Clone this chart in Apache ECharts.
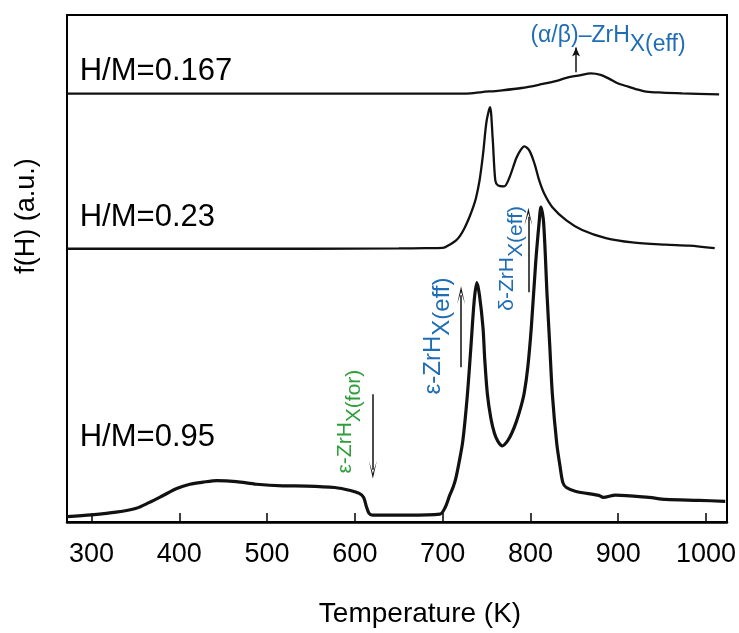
<!DOCTYPE html>
<html>
<head>
<meta charset="utf-8">
<title>f(H) vs Temperature</title>
<script src="https://cdn.jsdelivr.net/npm/echarts@6/dist/echarts.min.js"></script>
<style>html,body{margin:0;padding:0;background:#fff}#main{width:739px;height:633px}</style>
</head>
<body>
<div id="main"></div>
<script>
// temperature (K) and f(H) (a.u.), one pair of arrays per curve
var t095 = [272,300,328,351,366,381,397,412,427,443,465,488,518,545,577,595,605,610,613,616,620,660,697,703,708,712,715,719,723,728,732,736,739,742,746,748,751,755,759,763,768,774,779,784,789,793,797,801,806,810,812,815,819,822,825,830,834,837,841,852,878,883,897,935,954,992,1022];
var f095 = [1.07,1.42,1.94,2.72,3.88,5.18,6.60,7.44,7.86,8.16,7.96,7.44,7.13,7.09,6.80,6.21,5.63,4.85,3.11,1.75,1.36,1.36,1.55,2.91,5.24,6.90,8.6,12.0,16.0,24.7,34.0,43.7,47.2,44.7,38.3,32.0,25.2,20.4,17.5,15.9,15.0,16.0,17.6,19.8,22.6,25.5,30.5,38.3,51.1,59.2,62.1,59.2,44.7,35.0,25.2,15.5,10.7,7.77,6.80,6.02,5.24,4.85,5.30,4.85,4.47,4.27,4.08];
var t023 = [272,400,550,650,680,700,708,715,720,725,730,735,738,742,746,750,754,757,760,763,770,776,784,789,793,799,805,810,816,825,841,859,886,916,954,981,1010];
var f023 = [0,0,0,0.05,0.1,0.15,0.8,1.6,2.6,4.1,6.0,8.3,10.0,13.4,18.6,25.1,27.9,21.8,13.5,12.5,12.3,14.0,17.9,19.5,20.2,19.3,16.6,13.5,10.8,8.2,5.6,3.7,2.1,1.25,0.8,0.6,0.1];
var t0167 = [272,500,700,727,745,765,790,814,830,841,856,869,880,890,900,909,920,932,950,973,1015];
var f0167 = [0,0,0,0,0.3,0.6,1.1,1.9,2.5,3.1,3.6,4.0,3.7,2.9,2.0,1.5,0.9,0.4,0.2,0.05,-0.15];
// vertical offsets of the stacked curves (a.u.)
var off095 = 0, off023 = 53.9, off0167 = 84.5;
var xTicks = [300,400,500,600,700,800,900,1000];

// arrows: [temperature, from, to]
var arrowsOpen = [[620.5,25.2,10.3],[721,30.5,44.7],[797.7,45.3,60.2]];
var arrowAB = [852,88.7,93.6];

var FONT = 'Liberation Sans, Arial, sans-serif';
var BLUE = '#1f6db5', GREEN = '#2f9e3a';

function pairs(t, f, off) {
    var out = [];
    for (var i = 0; i < t.length; i++) out.push([t[i], +(f[i] + off).toFixed(2)]);
    return out;
}
function arrowLines(list) {
    return list.map(function (a) { return [{coord: [a[0], a[1]]}, {coord: [a[0], a[2]]}]; });
}

var chart = echarts.init(document.getElementById('main'));

var lineBase = {type: 'line', showSymbol: false, smooth: 0.3, silent: true};

var option = {
    animation: false,
    grid: {left: 67, top: 15, right: 12, bottom: 103, show: true, borderColor: '#000', borderWidth: 2},
    xAxis: {
        type: 'value', min: 272, max: 1024,
        splitLine: {show: false},
        axisLine: {lineStyle: {color: '#000', width: 2.5}},
        axisTick: {inside: true, length: 9, lineStyle: {color: '#000', width: 1.5}, customValues: xTicks},
        axisLabel: {color: '#000', fontSize: 27, fontFamily: FONT, margin: 19, customValues: xTicks,
            formatter: function (v) { return String(v); }},
        name: 'Temperature (K)', nameLocation: 'middle', nameGap: 78,
        nameTextStyle: {color: '#000', fontSize: 28, fontFamily: FONT, padding: [0, 0, 0, 46]}
    },
    yAxis: {type: 'value', min: 0, max: 100, show: false},
    series: [
        Object.assign({}, lineBase, {
            name: 'H/M=0.95', data: pairs(t095, f095, off095),
            lineStyle: {color: '#111', width: 3.2},
            markLine: {
                silent: true, symbol: ['none', 'path://M5,0 L10,20 L5,6 L0,20 Z'], symbolSize: [8, 18],
                label: {show: false}, lineStyle: {color: '#111', width: 1.5, type: 'solid'},
                data: arrowLines(arrowsOpen)
            }
        }),
        Object.assign({}, lineBase, {
            name: 'H/M=0.23', data: pairs(t023, f023, off023),
            lineStyle: {color: '#111', width: 2.3}
        }),
        Object.assign({}, lineBase, {
            name: 'H/M=0.167', data: pairs(t0167, f0167, off0167),
            lineStyle: {color: '#111', width: 2.3},
            markLine: {
                silent: true, symbol: ['none', 'arrow'], symbolSize: [6, 9],
                label: {show: false}, lineStyle: {color: '#111', width: 1.5, type: 'solid'},
                data: arrowLines([arrowAB])
            }
        })
    ]
};
chart.setOption(option);

// text annotations placed through the chart's own scales
function px(x, y) { return chart.convertToPixel({gridIndex: 0}, [x, y]); }
function subText(main, sub, color, size) {
    return {
        text: '{m|' + main + '}{s|' + sub + '}', fill: color,
        rich: {
            m: {fontSize: size, fontFamily: FONT, fill: color, lineHeight: 22, verticalAlign: 'top'},
            s: {fontSize: size, fontFamily: FONT, fill: color, lineHeight: 22, padding: [9, 0, 0, 0], verticalAlign: 'top'}
        }
    };
}
var hmLabels = [['H/M=0.167', 286.5, 88.9], ['H/M=0.23', 286.5, 60.1], ['H/M=0.95', 286.5, 16.7]];
var graphics = hmLabels.map(function (l) {
    var p = px(l[1], l[2]);
    return {type: 'text', x: p[0], y: p[1], silent: true,
        style: {text: l[0], fill: '#000', font: '31px ' + FONT, textAlign: 'left', verticalAlign: 'middle'}};
});
// rotated phase labels: [main, sub, colour, font size, temperature of text axis, centre height]
var phaseLabels = [['ε-ZrH', 'X(for)', GREEN, 21, 590, 19.8], ['ε-ZrH', 'X(eff)', BLUE, 24, 688, 36.7], ['δ-ZrH', 'X(eff)', BLUE, 21, 773.8, 52.0]];
phaseLabels.forEach(function (l) {
    var p = px(l[4], l[5]);
    var st = subText(l[0], l[1], l[2], l[3]);
    st.textAlign = 'center'; st.verticalAlign = 'top';
    graphics.push({type: 'text', x: p[0] - 11, y: p[1], rotation: Math.PI / 2, silent: true, style: st});
});
var pab = px(800, 96.0);
var stAB = subText('(α/β)–ZrH', 'X(eff)', BLUE, 23);
stAB.textAlign = 'left'; stAB.verticalAlign = 'top';
graphics.push({type: 'text', x: pab[0], y: pab[1] - 11, silent: true, style: stAB});
graphics.push({type: 'text', x: 27, y: 216, rotation: Math.PI / 2, silent: true,
    style: {text: 'f(H) (a.u.)', fill: '#000', font: '27px ' + FONT, textAlign: 'center', verticalAlign: 'middle'}});
chart.setOption({graphic: graphics});
</script>
</body>
</html>
